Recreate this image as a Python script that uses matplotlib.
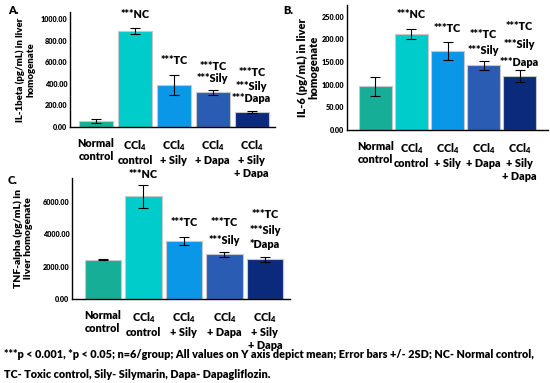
import matplotlib
matplotlib.use("Agg")
import matplotlib.pyplot as plt
from matplotlib import font_manager as fm
from matplotlib.transforms import blended_transform_factory
import numpy as np

FONT = 'Lato'
bold_path = None
for name in ['Lato-ExtraBold.ttf', 'Lato-Heavy.ttf', 'Lato-Bold.ttf']:
    for f in fm.fontManager.ttflist:
        if f.fname.endswith(name):
            bold_path = f.fname
            break
    if bold_path:
        break

def fp(size):
    if bold_path:
        return fm.FontProperties(fname=bold_path, size=size)
    return fm.FontProperties(family=FONT, weight='bold', size=size)

plt.rcParams['font.family'] = [FONT, 'DejaVu Sans']
plt.rcParams['font.weight'] = 'heavy'
plt.rcParams['mathtext.fontset'] = 'custom'
plt.rcParams['mathtext.rm'] = FONT + ':heavy'
plt.rcParams['mathtext.it'] = FONT + ':heavy'
plt.rcParams['mathtext.bf'] = FONT + ':heavy'
plt.rcParams['mathtext.default'] = 'regular'

groups = ["Normal\ncontrol", "CCl$_4$\ncontrol", "CCl$_4$\n+ Sily", "CCl$_4$\n+ Dapa", "CCl$_4$\n+ Sily\n+ Dapa"]
colors = ["#17AE97", "#00CCCC", "#0A97E8", "#2B5CB3", "#0B2A7C"]

il1b_mean = [55, 888, 390, 320, 140]
il1b_err = [15, 28, 92, 20, 8]
il1b_notes = [[], ["***NC"], ["***TC"], ["***TC", "***Sily"], ["***TC", "***Sily", "***Dapa"]]

il6_mean = [97, 212, 175, 143, 119]
il6_err = [21, 10, 20, 10, 13]
il6_notes = [[], ["***NC"], ["***TC"], ["***TC", "***Sily"], ["***TC", "***Sily", "***Dapa"]]

tnf_mean = [2420, 6370, 3580, 2770, 2450]
tnf_err = [30, 720, 250, 160, 150]
tnf_notes = [[], ["***NC"], ["***TC"], ["***TC", "***Sily"], ["***TC", "***Sily", "*Dapa"]]

W, H = 550, 383
fig = plt.figure(figsize=(W/100, H/100), dpi=100)

def make_ax(left, bottom, right, top):
    return fig.add_axes([left/W, 1-bottom/H, (right-left)/W, (bottom-top)/H])

def panel(ax, means, errs, notes, ylim, yticks, xlim, width, ylabel, ylabel_fs, note_px, note_fs):
    x = np.arange(len(means))
    ax.bar(x, means, width=width, color=colors, edgecolor="#c8c8c8", linewidth=0.8, zorder=2)
    ax.errorbar(x, means, yerr=errs, fmt='none', ecolor='black', elinewidth=0.8,
                capsize=3.5, capthick=0.8, zorder=3)
    ax.set_ylim(*ylim)
    ax.set_xlim(*xlim)
    ax.set_yticks(yticks)
    ax.set_yticklabels([f"{v:.2f}" for v in yticks], fontproperties=fp(5.2))
    ax.set_xticks(x)
    ax.set_xticklabels(groups, fontproperties=fp(7.8), va='top', linespacing=1.25)
    ax.tick_params(axis='x', length=0, pad=8)
    ax.tick_params(axis='y', length=0, pad=2)
    for s in ['top', 'right']:
        ax.spines[s].set_visible(False)
    for s in ['left', 'bottom']:
        ax.spines[s].set_linewidth(1.0)
        ax.spines[s].set_color('black')
    ax.set_ylabel(ylabel, fontproperties=fp(ylabel_fs), linespacing=1.1)
    tr = blended_transform_factory(ax.transData, fig.transFigure)
    for xi, lines, ys in zip(x, notes, note_px):
        for line, ypx in zip(lines, ys):
            ax.text(xi, 1 - ypx/H, line, ha='center', va='center', fontproperties=fp(note_fs),
                    transform=tr)

# Panel A
axA = make_ax(70, 127, 275, 12)
panel(axA, il1b_mean, il1b_err, il1b_notes, (0, 1065), [0, 200, 400, 600, 800, 1000],
      (-0.67, 4.6), 0.88, "IL-1beta (pg/mL) in liver\nhomogenate", 6.9,
      [[], [14], [61], [67, 79], [72, 86, 99]], 7.8)
axA.yaxis.set_label_coords(-0.17, 0.5)

# Panel B
axB = make_ax(347, 130, 548, 5)
panel(axB, il6_mean, il6_err, il6_notes, (0, 276), [0, 50, 100, 150, 200, 250],
      (-0.79, 4.79), 0.92, "IL-6 (pg/mL) in liver\nhomogenate", 8.0,
      [[], [14], [28], [35, 50], [27, 44, 62]], 7.8)
axB.yaxis.set_label_coords(-0.135, 0.5)

# Panel C
axC = make_ax(72, 299, 290, 178)
panel(axC, tnf_mean, tnf_err, tnf_notes, (0, 7500), [0, 2000, 4000, 6000],
      (-0.76, 4.62), 0.9, "TNF-alpha (pg/mL) in\nliver homogenate", 7.5,
      [[], [175], [222], [223, 240], [215, 231, 244]], 7.8)
axC.yaxis.set_label_coords(-0.18, 0.5)

fig.text(8/W, 1-10/H, "A.", fontproperties=fp(8), va='center')
fig.text(283/W, 1-10/H, "B.", fontproperties=fp(8), va='center')
fig.text(8/W, 1-180/H, "C.", fontproperties=fp(8), va='center')

fig.text(4/W, 1-354/H, "***p < 0.001, *p < 0.05; n=6/group; All values on Y axis depict mean; Error bars +/- 2SD; NC- Normal control,",
         fontproperties=fp(7.85), va='center')
fig.text(4/W, 1-374/H, "TC- Toxic control, Sily- Silymarin, Dapa- Dapagliflozin.",
         fontproperties=fp(7.85), va='center')

fig.savefig("out.png", dpi=100, facecolor='white')
